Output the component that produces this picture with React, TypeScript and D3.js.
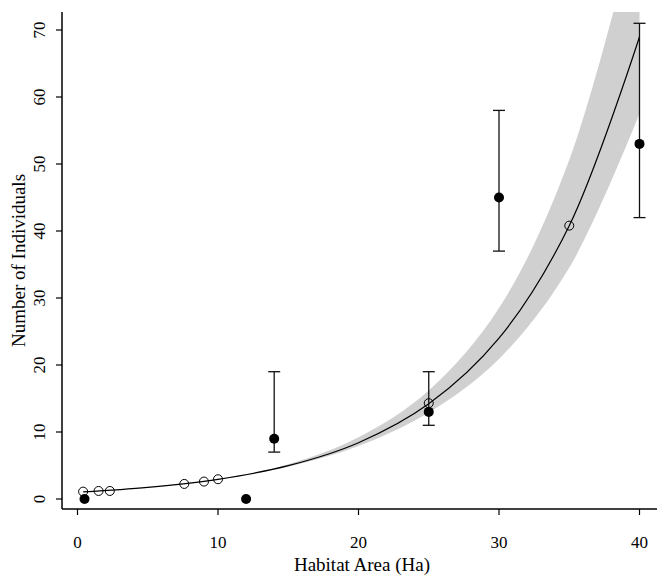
import React from 'react';
import * as d3 from 'd3';

// fitted curve and its confidence band
const fitX = [0.4, 5, 10, 15, 20, 25, 30, 35, 40];
const fitY = [1.07, 1.74, 2.94, 4.97, 8.4, 14.2, 24.0, 40.8, 69.0];
const bandLo = [1.07, 1.74, 2.91, 4.82, 7.9, 12.9, 20.9, 34.5, 57.5];
const bandHi = [1.07, 1.74, 2.97, 5.17, 9.2, 16.2, 28.5, 50.6, 88.0];

// predicted values (open circles)
const predX = [0.4, 1.5, 2.3, 7.6, 9, 10, 25, 35];
const predY = [1.1, 1.2, 1.2, 2.25, 2.6, 2.95, 14.3, 40.8];

// observed values (filled circles) with error bars
const obsX = [0.5, 12, 14, 25, 30, 40];
const obsY = [0, 0, 9, 13, 45, 53];
const obsLo = [null, null, 7, 11, 37, 42];
const obsHi = [null, null, 19, 19, 58, 71];

const xTicks = [0, 10, 20, 30, 40];
const yTicks = [0, 10, 20, 30, 40, 50, 60, 70];

const W = 657, H = 577;
const plot = { left: 62, right: 662, top: 12, bottom: 509 };
const font = '"Liberation Serif", "Times New Roman", serif';

export default function App() {
  const x = d3.scaleLinear().domain([0, 40]).range([77.5, 639.5]);
  const y = d3.scaleLinear().domain([0, 70]).range([499, 30]);

  const idx = d3.range(fitX.length);
  const band = d3.area<number>()
    .x(i => x(fitX[i]))
    .y0(i => y(bandLo[i]))
    .y1(i => y(bandHi[i]))
    .curve(d3.curveCatmullRom);
  const line = d3.line<number>()
    .x(i => x(fitX[i]))
    .y(i => y(fitY[i]))
    .curve(d3.curveCatmullRom);

  return (
    <svg width={W} height={H} style={{ position: 'absolute', left: 0, top: 0, background: '#fff' }}
      fontFamily={font}>
      <defs>
        <clipPath id="plotClip">
          <rect x={plot.left} y={plot.top} width={plot.right - plot.left} height={plot.bottom - plot.top} />
        </clipPath>
      </defs>

      <g clipPath="url(#plotClip)">
        <path d={band(idx) || ''} fill="#d0d0d0" stroke="none" />
        <path d={line(idx) || ''} fill="none" stroke="#000" strokeWidth={1.2} />

        {obsX.map((d, i) => obsLo[i] == null ? null : (
          <g key={'eb' + i} stroke="#111" strokeWidth={1.3}>
            <line x1={x(d)} x2={x(d)} y1={y(obsLo[i] as number)} y2={y(obsHi[i] as number)} />
            <line x1={x(d) - 6} x2={x(d) + 6} y1={y(obsLo[i] as number)} y2={y(obsLo[i] as number)} />
            <line x1={x(d) - 6} x2={x(d) + 6} y1={y(obsHi[i] as number)} y2={y(obsHi[i] as number)} />
          </g>
        ))}

        {predX.map((d, i) => (
          <circle key={'p' + i} cx={x(d)} cy={y(predY[i])} r={4.5} fill="none" stroke="#000" strokeWidth={1} />
        ))}
        {obsX.map((d, i) => (
          <circle key={'o' + i} cx={x(d)} cy={y(obsY[i])} r={5} fill="#000" />
        ))}
      </g>

      {/* axes */}
      <line x1={plot.left} x2={plot.left} y1={plot.top} y2={plot.bottom} stroke="#000" strokeWidth={1.5} />
      <line x1={plot.left} x2={W} y1={plot.bottom} y2={plot.bottom} stroke="#000" strokeWidth={1.5} />

      {yTicks.map(t => (
        <g key={'yt' + t}>
          <line x1={plot.left - 6} x2={plot.left} y1={y(t)} y2={y(t)} stroke="#000" strokeWidth={1.2} />
          <text transform={`translate(45,${y(t)}) rotate(-90)`} textAnchor="middle" fontSize={17}>{t}</text>
        </g>
      ))}
      {xTicks.map(t => (
        <g key={'xt' + t}>
          <line x1={x(t)} x2={x(t)} y1={plot.bottom} y2={plot.bottom + 6} stroke="#000" strokeWidth={1.2} />
          <text x={x(t)} y={548} textAnchor="middle" fontSize={17}>{t}</text>
        </g>
      ))}

      <text x={362} y={571} textAnchor="middle" fontSize={19}>Habitat Area (Ha)</text>
      <text transform={`translate(25,${(plot.top + plot.bottom) / 2}) rotate(-90)`} textAnchor="middle" fontSize={19}>
        Number of Individuals
      </text>
    </svg>
  );
}
